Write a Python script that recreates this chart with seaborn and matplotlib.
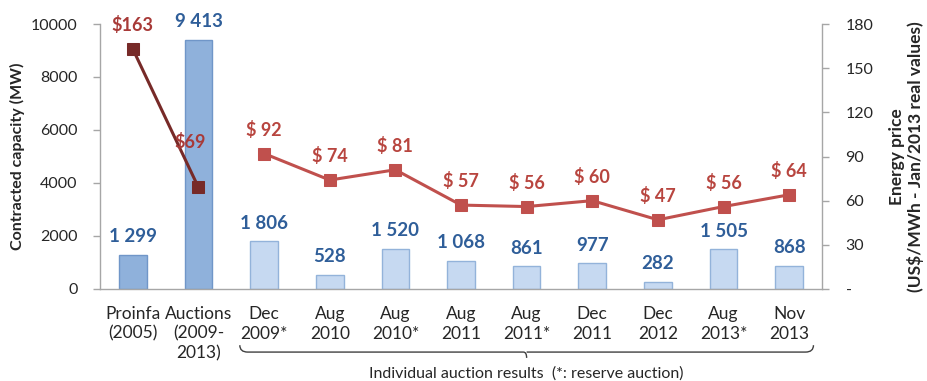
import numpy as np
import pandas as pd
import matplotlib
matplotlib.use("Agg")
import matplotlib.pyplot as plt
from matplotlib.path import Path
from matplotlib.patches import PathPatch
import matplotlib.transforms as mtransforms
import seaborn as sns

# ---- data ----
categories = ["Proinfa\n(2005)", "Auctions\n(2009-\n2013)", "Dec\n2009*", "Aug\n2010",
              "Aug\n2010*", "Aug\n2011", "Aug\n2011*", "Dec\n2011", "Dec\n2012",
              "Aug\n2013*", "Nov\n2013"]
capacity_mw = [1299, 9413, 1806, 528, 1520, 1068, 861, 977, 282, 1505, 868]
price_usd = [163, 69, 92, 74, 81, 57, 56, 60, 47, 56, 64]
aggregate_count = 2  # Proinfa and total auctions come first
capacity_ticks = [0, 2000, 4000, 6000, 8000, 10000]
price_ticks = [0, 30, 60, 90, 120, 150, 180]
bracket_text = "Individual auction results  (*: reserve auction)"

sns.set_theme(style="white")
plt.rcParams["font.family"] = ["Lato", "DejaVu Sans"]

DARK_BAR, DARK_EDGE = "#8FB1DB", "#7096C8"
LIGHT_BAR, LIGHT_EDGE = "#C6D9F1", "#93B3DA"
DARK_LINE, LIGHT_LINE = "#772A28", "#C0504D"
DARK_TXT, LIGHT_TXT = "#A83A38", "#B8453F"
BLUE_TXT = "#2F5E99"
SPINE = "#A6A6A6"
TEXT = "#262626"

df = pd.DataFrame({"cat": categories, "cap": capacity_mw, "price": price_usd})
df["pos"] = np.arange(len(df))
df["group"] = np.where(df["pos"] < aggregate_count, "aggregate", "individual")

fig = plt.figure(figsize=(9.27, 3.81), dpi=100)
ax = fig.add_axes([100 / 927, 1 - 289 / 381, 722 / 927, 265 / 381])

sns.barplot(data=df, x="cat", y="cap", hue="cat", legend=False, saturation=1,
            palette=[DARK_BAR if g == "aggregate" else LIGHT_BAR for g in df["group"]],
            width=0.42, ax=ax, order=categories)
for patch, g in zip(ax.patches, df["group"]):
    patch.set_edgecolor(DARK_EDGE if g == "aggregate" else LIGHT_EDGE)
    patch.set_linewidth(1.0)

ax.set_xlim(-0.5, len(categories) - 0.5)
ax.set_ylim(0, 10000)
ax.set_yticks(capacity_ticks)
ax.set_yticklabels([str(v) for v in capacity_ticks])
ax.set_xlabel("")
ax.set_ylabel("Contracted capacity (MW)", fontsize=11.5, fontweight="bold", color=TEXT,
              va="center", ha="center")
ax.yaxis.set_label_coords(-0.114, 0.5)

# category labels without marks; marks sit on the boundaries between categories
ax.set_xticks(df["pos"])
ax.set_xticklabels(categories, linespacing=1.3)
ax.set_xticks(np.arange(-0.5, len(categories)), minor=True)
ax.tick_params(axis="x", which="major", length=0, pad=12, labelsize=12.5, labelcolor=TEXT)
ax.tick_params(axis="x", which="minor", length=5, width=1, color=SPINE, direction="out")
ax.tick_params(axis="y", length=5, width=1, color=SPINE, direction="out", pad=11,
               labelsize=11.5, labelcolor=TEXT, left=True)

for side in ["top", "right"]:
    ax.spines[side].set_visible(False)
for side in ["left", "bottom"]:
    ax.spines[side].set_color(SPINE)
    ax.spines[side].set_linewidth(1)

for x, v in zip(df["pos"], df["cap"]):
    ax.annotate(f"{v:,}".replace(",", " "), (x, v), xytext=(0, 13), textcoords="offset points",
                ha="center", va="center", fontsize=13.5, fontweight="bold", color=BLUE_TXT,
                annotation_clip=False)

# ---- prices on the secondary axis ----
ax2 = ax.twinx()
agg = df[df["group"] == "aggregate"]
ind = df[df["group"] == "individual"]
sns.lineplot(data=agg, x="pos", y="price", ax=ax2, color=DARK_LINE, lw=2.2,
             marker="s", markersize=8.5, markeredgecolor=DARK_LINE)
sns.lineplot(data=ind, x="pos", y="price", ax=ax2, color=LIGHT_LINE, lw=2.2,
             marker="s", markersize=8.5, markeredgecolor=LIGHT_LINE)
ax2.set_xlim(ax.get_xlim())
ax2.set_ylim(0, 180)
ax2.set_yticks(price_ticks)
ax2.set_yticklabels(["-" if v == 0 else str(v) for v in price_ticks])
ax2.set_ylabel("Energy price\n(US$/MWh - Jan/2013 real values)", fontsize=12.5,
               fontweight="bold", color=TEXT, linespacing=1.2, va="center", ha="center")
ax2.yaxis.set_label_coords(1.117, 0.5)
ax2.tick_params(axis="y", length=5, width=1, color=SPINE, direction="out", pad=12,
                labelsize=11.5, labelcolor=TEXT, right=True)
ax2.grid(False)
for side in ["top", "left", "bottom"]:
    ax2.spines[side].set_visible(False)
ax2.spines["right"].set_color(SPINE)
ax2.spines["right"].set_linewidth(1)

for x, v, g in zip(df["pos"], df["price"], df["group"]):
    if g == "aggregate":
        txt, col = f"${v}", DARK_TXT
        offset = (-6, 33) if x == 1 else (0, 17)
    else:
        txt, col = f"$ {v}", LIGHT_TXT
        offset = (0, 17)
    ax2.annotate(txt, (x, v), xytext=offset, textcoords="offset points",
                 ha="center", va="center", fontsize=13, fontweight="bold", color=col,
                 annotation_clip=False)

# ---- bracket grouping the individual auctions ----
trans = mtransforms.blended_transform_factory(ax.transData, ax.transAxes)
x0, x1 = ind["pos"].min() - 0.37, ind["pos"].max() + 0.37
xm = (x0 + x1) / 2
yb, ye, yt = -0.238, -0.212, -0.26
r = 0.12
verts = [(x0, ye), (x0, yb), (x0 + r, yb), (xm - 0.05, yb), (xm, yb), (xm, yt),
         (xm, yb), (xm + 0.05, yb), (x1 - r, yb), (x1, yb), (x1, ye)]
codes = [Path.MOVETO, Path.CURVE3, Path.CURVE3, Path.LINETO, Path.CURVE3, Path.CURVE3,
         Path.MOVETO, Path.LINETO, Path.LINETO, Path.CURVE3, Path.CURVE3]
ax.add_patch(PathPatch(Path(verts, codes), transform=trans, fill=False,
                       edgecolor="#404040", lw=1.0, clip_on=False))
ax.text(xm, -0.318, bracket_text, transform=trans, ha="center", va="center",
        fontsize=11.5, color=TEXT)

fig.savefig("out.png", dpi=100)
